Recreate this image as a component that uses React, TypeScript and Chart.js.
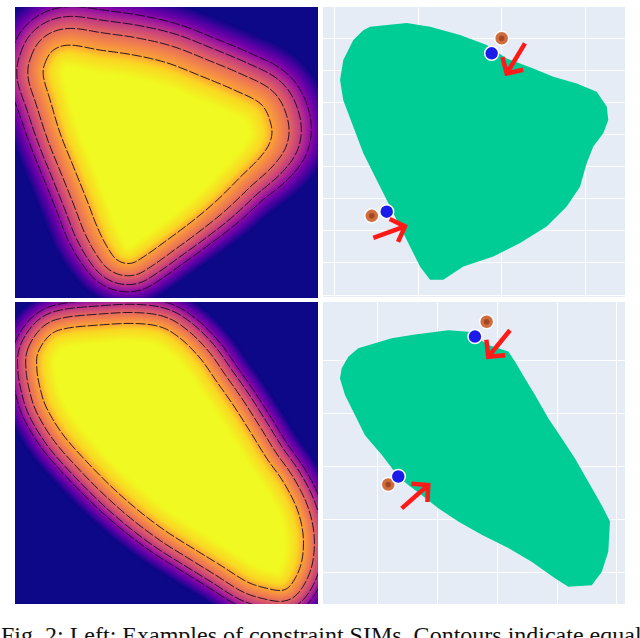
import React, { useEffect, useRef } from "react";
import { Chart, registerables } from "chart.js";

Chart.register(...registerables);

// ================= DATA =================
// Left column: constraint SIM fields. Core outline = innermost contour (axis units 0..100).
const TL_CORE_X = [9.9, 12.7, 18.2, 28.1, 39.2, 50.2, 61.3, 72.3, 81.1, 84.4, 84.4, 81.1, 74.5, 66.8, 59.0, 50.2, 42.5, 38.1, 33.7, 30.4, 27.1, 23.7, 19.3, 14.9, 11.6, 9.4];
const TL_CORE_Y = [80.7, 85.2, 86.9, 85.2, 83.5, 80.8, 76.3, 71.5, 66.7, 60.0, 54.3, 48.6, 41.7, 33.7, 26.8, 19.9, 14.2, 11.9, 13.1, 17.6, 24.5, 33.7, 45.1, 56.6, 68.0, 76.0];
// how widely the field spreads around each outline vertex (relative)
const TL_SPREAD = [1.1, 1.15, 1.2, 1.25, 1.25, 1.25, 1.25, 1.25, 1.25, 1.25, 1.2, 1.1, 1.0, 0.95, 0.9, 0.88, 0.88, 0.88, 0.9, 0.95, 1.0, 1.0, 1.0, 1.0, 1.05, 1.1];
// SIM value versus outward distance from the core outline (x-axis units)
const TL_PROFILE_DIST = [-6, -2, 0, 4.6, 7.9, 10.6, 12.5, 14.5, 15.8];
const TL_PROFILE_VALUE = [1.0, 0.92, 0.8, 0.62, 0.45, 0.3, 0.18, 0.06, 0.0];

const BL_CORE_X = [7.7, 11.6, 17.1, 28.1, 39.0, 47.9, 54.5, 61.1, 66.6, 72.0, 77.6, 83.1, 88.5, 93.0, 95.1, 94.6, 91.8, 88.5, 83.1, 76.5, 67.7, 58.8, 50.1, 41.3, 32.4, 23.7, 15.9, 10.5, 8.3, 7.2];
const BL_CORE_Y = [83.5, 89.1, 91.3, 92.4, 92.9, 91.8, 88.0, 81.4, 73.6, 65.9, 57.1, 48.2, 40.5, 31.7, 22.8, 14.0, 7.4, 4.6, 5.2, 7.4, 12.9, 18.4, 23.9, 30.5, 38.3, 47.1, 56.0, 64.8, 71.4, 78.0];
const BL_SPREAD = [1, 1, 1, 1, 1, 1, 1, 1, 1, 1, 1, 1, 1, 1, 1, 1, 1, 1, 1, 1, 1, 1, 1, 1, 1, 1, 1, 1, 1, 1];
const BL_PROFILE_DIST = [-6, -2, 0, 3.6, 6.3, 8.3, 10.0, 11.6, 12.6];
const BL_PROFILE_VALUE = [1.0, 0.92, 0.8, 0.62, 0.45, 0.3, 0.18, 0.06, 0.0];

const CONTOUR_LEVELS = [0.3, 0.45, 0.62, 0.8];

// Right column: feasible regions with query points, constraint points and arrows.
const TR_SHAPE_X = [-0.575, -0.135, 0.144, 0.503, 0.823, 1.062, 1.381, 1.62, 1.901, 2.14, 2.26, 2.279, 2.219, 2.099, 2.02, 1.94, 1.781, 1.541, 1.222, 0.902, 0.543, 0.303, 0.144, 0.024, -0.096, -0.216, -0.335, -0.495, -0.655, -0.775, -0.895, -0.934, -0.895, -0.775, -0.655];
const TR_SHAPE_Y = [8.37, 8.49, 8.37, 8.11, 7.8, 7.38, 7.07, 6.81, 6.6, 6.34, 5.88, 5.46, 5.05, 4.63, 4.11, 3.38, 2.76, 2.14, 1.62, 1.2, 0.89, 0.48, 0.48, 0.89, 1.51, 2.14, 2.76, 3.59, 4.42, 5.25, 6.08, 6.71, 7.33, 7.96, 8.26];
const TR_BLUE_X = [0.882, -0.375];
const TR_BLUE_Y = [7.54, 2.6];
const TR_ORANGE_X = [1.002, -0.554];
const TR_ORANGE_Y = [8.01, 2.47];
const TR_ARROW_TAIL_X = [1.281, -0.535];
const TR_ARROW_TAIL_Y = [7.85, 1.78];
const TR_ARROW_HEAD_X = [1.062, -0.156];
const TR_ARROW_HEAD_Y = [6.91, 2.14];
const TR_X_TICKS = [-1, 0, 1, 2];
const TR_Y_TICKS = [0, 1, 2, 3, 4, 5, 6, 7, 8];

const BR_SHAPE_X = [-0.33, 0.229, 0.619, 1.177, 1.511, 1.846, 2.181, 2.293, 2.46, 2.628, 2.85, 3.075, 3.297, 3.52, 3.744, 3.883, 3.854, 3.744, 3.577, 3.185, 2.962, 2.572, 2.181, 1.736, 1.344, 1.009, 0.731, 0.507, 0.34, 0.062, -0.218, -0.385, -0.552, -0.636, -0.608, -0.497];
const BR_SHAPE_Y = [4.24, 4.43, 4.5, 4.58, 4.55, 4.3, 4.18, 3.99, 3.67, 3.36, 2.92, 2.54, 2.16, 1.72, 1.28, 0.97, 0.4, 0.02, -0.23, -0.26, -0.1, 0.21, 0.47, 0.72, 0.97, 1.22, 1.47, 1.66, 1.82, 2.23, 2.6, 2.98, 3.36, 3.67, 3.86, 4.08];
const BR_BLUE_X = [1.623, 0.34];
const BR_BLUE_Y = [4.46, 1.82];
const BR_ORANGE_X = [1.819, 0.172];
const BR_ORANGE_Y = [4.74, 1.67];
const BR_ARROW_TAIL_X = [2.209, 0.397];
const BR_ARROW_TAIL_Y = [4.58, 1.22];
const BR_ARROW_HEAD_X = [1.846, 0.842];
const BR_ARROW_HEAD_Y = [4.08, 1.66];
const BR_X_TICKS = [0, 1, 2, 3, 4];
const BR_Y_TICKS = [0, 1, 2, 3, 4];

const CAPTION = "Fig. 2: Left: Examples of constraint SIMs. Contours indicate equal";

// ================= HELPERS =================
const PLASMA = [
  [13, 8, 135], [65, 4, 157], [106, 0, 168], [143, 13, 164], [177, 42, 144],
  [204, 71, 120], [225, 100, 98], [242, 132, 75], [252, 166, 54], [252, 206, 37], [240, 249, 33],
];
function plasma(t: number): string {
  const v = Math.max(0, Math.min(1, t)) * (PLASMA.length - 1);
  const i = Math.min(PLASMA.length - 2, Math.floor(v));
  const f = v - i;
  const a = PLASMA[i], b = PLASMA[i + 1];
  return `rgb(${Math.round(a[0] + (b[0] - a[0]) * f)},${Math.round(a[1] + (b[1] - a[1]) * f)},${Math.round(a[2] + (b[2] - a[2]) * f)})`;
}
type P = { x: number; y: number; s: number };
function smoothClosed(pts: P[], n: number): P[] {
  const out: P[] = [];
  const N = pts.length;
  for (let i = 0; i < N; i++) {
    const p0 = pts[(i - 1 + N) % N], p1 = pts[i], p2 = pts[(i + 1) % N], p3 = pts[(i + 2) % N];
    for (let k = 0; k < n; k++) {
      const t = k / n, t2 = t * t, t3 = t2 * t;
      const f = (a: number, b: number, c: number, d: number) =>
        0.5 * (2 * b + (-a + c) * t + (2 * a - 5 * b + 4 * c - d) * t2 + (-a + 3 * b - 3 * c + d) * t3);
      out.push({ x: f(p0.x, p1.x, p2.x, p3.x), y: f(p0.y, p1.y, p2.y, p3.y), s: p1.s + (p2.s - p1.s) * t });
    }
  }
  return out;
}
function outwardNormals(pts: P[]): { x: number; y: number }[] {
  const n = pts.length;
  let cx = 0, cy = 0;
  pts.forEach((p) => { cx += p.x; cy += p.y; });
  cx /= n; cy /= n;
  const out: { x: number; y: number }[] = [];
  let s = 0;
  for (let i = 0; i < n; i++) {
    const a = pts[(i - 2 + n) % n], b = pts[(i + 2) % n];
    const tx = b.x - a.x, ty = b.y - a.y;
    const L = Math.hypot(tx, ty) || 1;
    const nx = ty / L, ny = -tx / L;
    out.push({ x: nx, y: ny });
    s += nx * (pts[i].x - cx) + ny * (pts[i].y - cy);
  }
  if (s < 0) out.forEach((v) => { v.x = -v.x; v.y = -v.y; });
  return out;
}
function tracePath(ctx: CanvasRenderingContext2D, pts: P[], nr: { x: number; y: number }[], d: number) {
  ctx.beginPath();
  for (let i = 0; i < pts.length; i++) {
    const k = d * pts[i].s;
    const x = pts[i].x + nr[i].x * k, y = pts[i].y + nr[i].y * k;
    if (i === 0) ctx.moveTo(x, y); else ctx.lineTo(x, y);
  }
  ctx.closePath();
}
function valueAt(d: number, dist: number[], vals: number[]): number {
  if (d <= dist[0]) return vals[0];
  for (let i = 0; i < dist.length - 1; i++) {
    if (d <= dist[i + 1]) {
      const f = (d - dist[i]) / (dist[i + 1] - dist[i]);
      return vals[i] + (vals[i + 1] - vals[i]) * f;
    }
  }
  return vals[vals.length - 1];
}
function distAt(lv: number, dist: number[], vals: number[]): number {
  for (let i = 0; i < vals.length - 1; i++) {
    if (lv <= vals[i] && lv >= vals[i + 1]) {
      const f = (vals[i] - lv) / (vals[i] - vals[i + 1] || 1);
      return dist[i] + (dist[i + 1] - dist[i]) * f;
    }
  }
  return 0;
}

function makeFieldPlugin(spread: number[], distUnits: number[], vals: number[], levels: number[]) {
  return {
    id: "simField",
    beforeDatasetsDraw(chart: any) {
      const meta = chart.getDatasetMeta(0);
      const raw: P[] = meta.data.map((e: any, i: number) => ({ x: e.x, y: e.y, s: spread[i] ?? 1 }));
      const pts = smoothClosed(raw, 10);
      const nr = outwardNormals(pts);
      const xs = chart.scales.x;
      const ppu = Math.abs(xs.getPixelForValue(1) - xs.getPixelForValue(0));
      const dist = distUnits.map((d) => d * ppu);
      const { ctx, chartArea: a } = chart;
      ctx.save();
      ctx.beginPath();
      ctx.rect(a.left, a.top, a.right - a.left, a.bottom - a.top);
      ctx.clip();
      ctx.fillStyle = plasma(vals[vals.length - 1]);
      ctx.fillRect(a.left, a.top, a.right - a.left, a.bottom - a.top);
      const dMax = dist[dist.length - 1], dMin = dist[0];
      for (let d = Math.ceil(dMax); d >= Math.floor(dMin); d -= 0.5) {
        ctx.fillStyle = plasma(valueAt(d, dist, vals));
        tracePath(ctx, pts, nr, d);
        ctx.fill();
      }
      ctx.setLineDash([10, 2]);
      ctx.lineWidth = 1;
      ctx.strokeStyle = "rgba(20,5,30,0.9)";
      for (const lv of levels) {
        tracePath(ctx, pts, nr, distAt(lv, dist, vals));
        ctx.stroke();
      }
      ctx.restore();
    },
  };
}

const bgPlugin = {
  id: "plotBg",
  beforeDraw(chart: any) {
    const { ctx, chartArea: a } = chart;
    ctx.save();
    ctx.fillStyle = "#e5ecf6";
    ctx.fillRect(a.left, a.top, a.right - a.left, a.bottom - a.top);
    ctx.restore();
  },
};
const regionPlugin = {
  id: "regionFill",
  beforeDatasetsDraw(chart: any) {
    const meta = chart.getDatasetMeta(0);
    const { ctx, chartArea: a } = chart;
    ctx.save();
    ctx.beginPath();
    ctx.rect(a.left, a.top, a.right - a.left, a.bottom - a.top);
    ctx.clip();
    ctx.beginPath();
    meta.data.forEach((e: any, i: number) => (i === 0 ? ctx.moveTo(e.x, e.y) : ctx.lineTo(e.x, e.y)));
    ctx.closePath();
    ctx.fillStyle = "#00cc96";
    ctx.fill();
    ctx.restore();
  },
};
const arrowHeadPlugin = {
  id: "arrowHeads",
  afterDatasetsDraw(chart: any) {
    const { ctx } = chart;
    chart.data.datasets.forEach((ds: any, i: number) => {
      if (!ds.isArrow) return;
      const m = chart.getDatasetMeta(i).data;
      const p0 = m[0], p1 = m[1];
      const ang = Math.atan2(p1.y - p0.y, p1.x - p0.x);
      const L = 17, spread = 0.8;
      ctx.save();
      ctx.strokeStyle = ds.borderColor;
      ctx.lineWidth = ds.borderWidth;
      ctx.lineJoin = "miter";
      ctx.lineCap = "butt";
      ctx.beginPath();
      ctx.moveTo(p1.x + L * Math.cos(ang + Math.PI - spread), p1.y + L * Math.sin(ang + Math.PI - spread));
      ctx.lineTo(p1.x, p1.y);
      ctx.lineTo(p1.x + L * Math.cos(ang + Math.PI + spread), p1.y + L * Math.sin(ang + Math.PI + spread));
      ctx.stroke();
      ctx.restore();
    });
  },
};

const zip = (xs: number[], ys: number[]) => xs.map((x, i) => ({ x, y: ys[i] }));

function heatConfig(xs: number[], ys: number[], spread: number[], dist: number[], vals: number[]): any {
  return {
    type: "scatter",
    data: { datasets: [{ label: "SIM core", data: zip(xs, ys), pointRadius: 0, pointHoverRadius: 0, showLine: false }] },
    options: {
      animation: false,
      responsive: false,
      events: [],
      layout: { padding: 0, autoPadding: false },
      plugins: { legend: { display: false }, tooltip: { enabled: false } },
      scales: {
        x: { type: "linear", min: 0, max: 100, display: false },
        y: { type: "linear", min: 0, max: 100, display: false },
      },
    },
    plugins: [makeFieldPlugin(spread, dist, vals, CONTOUR_LEVELS)],
  };
}

function mapConfig(o: any): any {
  const arrows = o.tailX.map((tx: number, i: number) => ({
    label: "arrow",
    isArrow: true,
    data: [{ x: tx, y: o.tailY[i] }, { x: o.headX[i], y: o.headY[i] }],
    showLine: true,
    borderColor: "#ff1a1a",
    borderWidth: 4.5,
    pointRadius: 0,
    order: 1,
  }));
  const axis = (min: number, max: number, ticks: number[]) => ({
    type: "linear",
    min,
    max,
    grid: { color: "#ffffff", lineWidth: 1, drawTicks: false },
    border: { display: false },
    ticks: { display: false },
    afterBuildTicks: (s: any) => {
      s.ticks = ticks.map((v) => ({ value: v }));
    },
  });
  return {
    type: "scatter",
    data: {
      datasets: [
        { label: "region", data: zip(o.shapeX, o.shapeY), pointRadius: 0, showLine: false, order: 10 },
        {
          label: "constraint", data: zip(o.orangeX, o.orangeY), pointRadius: 7,
          backgroundColor: "rgba(203,99,50,0.93)", borderColor: "rgba(255,255,255,0.95)", borderWidth: 1.5, order: 6,
        },
        { label: "constraint core", data: zip(o.orangeX, o.orangeY), pointRadius: 2.8, backgroundColor: "#a5461d", borderWidth: 0, order: 5 },
        {
          label: "query", data: zip(o.blueX, o.blueY), pointRadius: 7,
          backgroundColor: "#1c1ce8", borderColor: "#ffffff", borderWidth: 1.5, order: 4,
        },
        ...arrows,
      ],
    },
    options: {
      animation: false,
      responsive: false,
      events: [],
      layout: { padding: 0, autoPadding: false },
      plugins: { legend: { display: false }, tooltip: { enabled: false } },
      scales: { x: axis(o.xMin, o.xMax, o.xTicks), y: axis(o.yMin, o.yMax, o.yTicks) },
    },
    plugins: [bgPlugin, regionPlugin, arrowHeadPlugin],
  };
}

function ChartCanvas({ left, top, width, height, make }: any) {
  const ref = useRef<HTMLCanvasElement>(null);
  useEffect(() => {
    const chart = new Chart(ref.current as HTMLCanvasElement, make());
    return () => chart.destroy();
  }, []);
  return (
    <canvas
      ref={ref}
      width={width}
      height={height}
      style={{ position: "absolute", left, top, width, height, display: "block" }}
    />
  );
}

export default function App() {
  return (
    <div style={{ position: "fixed", left: 0, top: 0, width: 640, height: 638, overflow: "hidden", background: "#ffffff" }}>
      <ChartCanvas left={15} top={7} width={303} height={291}
        make={() => heatConfig(TL_CORE_X, TL_CORE_Y, TL_SPREAD, TL_PROFILE_DIST, TL_PROFILE_VALUE)} />
      <ChartCanvas left={15} top={302} width={303} height={302}
        make={() => heatConfig(BL_CORE_X, BL_CORE_Y, BL_SPREAD, BL_PROFILE_DIST, BL_PROFILE_VALUE)} />
      <ChartCanvas left={323} top={7} width={302} height={290}
        make={() => mapConfig({
          shapeX: TR_SHAPE_X, shapeY: TR_SHAPE_Y, blueX: TR_BLUE_X, blueY: TR_BLUE_Y,
          orangeX: TR_ORANGE_X, orangeY: TR_ORANGE_Y,
          tailX: TR_ARROW_TAIL_X, tailY: TR_ARROW_TAIL_Y, headX: TR_ARROW_HEAD_X, headY: TR_ARROW_HEAD_Y,
          xMin: -1.138, xMax: 2.479, yMin: -0.062, yMax: 8.986, xTicks: TR_X_TICKS, yTicks: TR_Y_TICKS,
        })} />
      <ChartCanvas left={323} top={302} width={302} height={302}
        make={() => mapConfig({
          shapeX: BR_SHAPE_X, shapeY: BR_SHAPE_Y, blueX: BR_BLUE_X, blueY: BR_BLUE_Y,
          orangeX: BR_ORANGE_X, orangeY: BR_ORANGE_Y,
          tailX: BR_ARROW_TAIL_X, tailY: BR_ARROW_TAIL_Y, headX: BR_ARROW_HEAD_X, headY: BR_ARROW_HEAD_Y,
          xMin: -0.92, xMax: 4.134, yMin: -0.585, yMax: 5.113, xTicks: BR_X_TICKS, yTicks: BR_Y_TICKS,
        })} />
      <div
        style={{
          position: "absolute", left: 1, top: 622, whiteSpace: "nowrap",
          fontFamily: '"Liberation Serif", "DejaVu Serif", serif', fontSize: 24, lineHeight: "normal", color: "#111",
        }}
      >
        {CAPTION}
      </div>
    </div>
  );
}
